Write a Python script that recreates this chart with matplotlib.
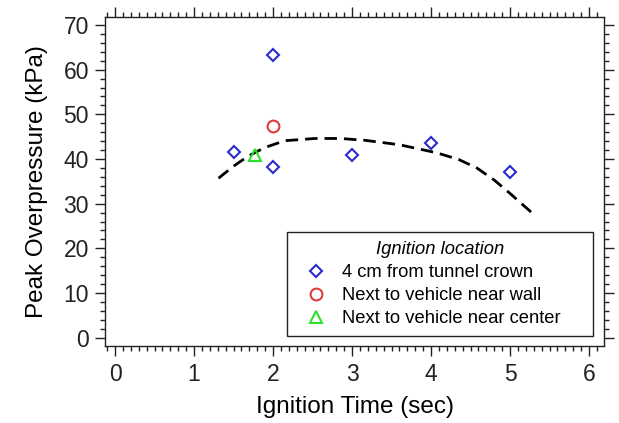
import matplotlib
matplotlib.use("Agg")
import matplotlib.pyplot as plt
from matplotlib.ticker import MultipleLocator

plt.rcParams['font.family'] = ['Liberation Sans', 'DejaVu Sans']

# Peak overpressure measurements by ignition location
crown_time = [1.5, 2.0, 2.0, 3.0, 4.0, 5.0]
crown_kpa = [41.6, 63.3, 38.2, 41.0, 43.5, 37.0]

wall_time = [2.0]
wall_kpa = [47.3]

center_time = [1.77]
center_kpa = [40.9]

# Trend curve samples
trend_time = [1.31, 1.50, 1.69, 1.90, 2.15, 2.53, 2.85, 3.16, 3.60, 4.07, 4.35, 4.58, 4.80, 5.00, 5.30]
trend_kpa = [35.7, 38.4, 40.7, 42.6, 44.1, 44.6, 44.6, 44.2, 43.2, 41.4, 39.9, 38.0, 35.3, 32.3, 27.6]

fig = plt.figure(figsize=(6.19, 4.23), dpi=100)
ax = fig.add_axes([0.1696, 0.182, 0.8062, 0.7785])

ax.plot(trend_time, trend_kpa, color='black', lw=2.0, dashes=(4.5, 2.5), zorder=2)

ax.plot(crown_time, crown_kpa, ls='none', marker='D', ms=6.5, mfc='none', mec='#2a2ad0',
        mew=1.5, label='4 cm from tunnel crown', zorder=3)
ax.plot(wall_time, wall_kpa, ls='none', marker='o', ms=8.5, mfc='none', mec='#e03c3c',
        mew=1.5, label='Next to vehicle near wall', zorder=3)
ax.plot(center_time, center_kpa, ls='none', marker='^', ms=9, mfc='none', mec='#2ee02e',
        mew=1.5, label='Next to vehicle near center', zorder=3)

ax.set_xlim(-0.127, 6.19)
ax.set_ylim(-1.86, 71.86)

ax.xaxis.set_major_locator(MultipleLocator(1))
ax.xaxis.set_minor_locator(MultipleLocator(0.1))
ax.yaxis.set_major_locator(MultipleLocator(10))
ax.yaxis.set_minor_locator(MultipleLocator(2))

ax.tick_params(which='both', direction='out', top=True, right=True, width=1.0, colors='#222222')
ax.tick_params(which='major', length=7.5, labelsize=16.5)
ax.tick_params(axis='y', which='major', pad=4)
ax.tick_params(axis='x', which='major', pad=5)
ax.tick_params(which='minor', length=3.8)
for s in ax.spines.values():
    s.set_linewidth(1.0)
    s.set_color('#222222')

ax.set_xlabel('Ignition Time (sec)', fontsize=17.5, labelpad=7)
ax.set_ylabel('Peak Overpressure (kPa)', fontsize=17.5, labelpad=11)

# legend box spans a fixed width in axes coordinates
leg = ax.legend(loc='lower left', bbox_to_anchor=(0.365, 0.030, 0.613, 0.31),
                mode='expand', borderaxespad=0,
                fontsize=13.2, title='Ignition location',
                title_fontproperties={'style': 'italic', 'size': 13.2},
                frameon=True, fancybox=False, edgecolor='#222222', framealpha=1,
                handlelength=2.2, handletextpad=0.3, labelspacing=0.32, borderpad=0.5)
leg.get_frame().set_linewidth(1.0)

fig.savefig('out.png', dpi=100)
